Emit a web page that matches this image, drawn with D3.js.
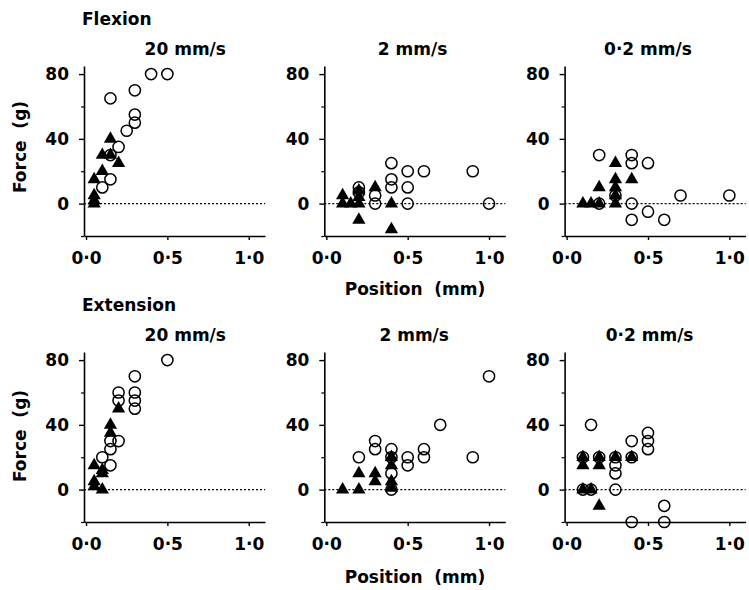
<!DOCTYPE html>
<html>
<head>
<meta charset="utf-8">
<script src="https://cdn.jsdelivr.net/npm/d3@7/dist/d3.min.js"></script>
<style>
  html, body { margin: 0; padding: 0; background: #fff; }
  svg { display: block; }
  text { font-family: "DejaVu Sans", sans-serif; font-weight: bold; fill: #000; }
</style>
</head>
<body>
<svg id="chart" width="749" height="590"></svg>
<script>
// ---------- data ----------
const rowNames = ["Flexion", "Extension"];
const speedTitles = ["20 mm/s", "2 mm/s", "0·2 mm/s"];
const xTicks = [0, 0.5, 1.0];
const yMajorTicks = [80, 40, 0];
const yMinorTicks = [60, 20, -20];

// Flexion, 20 mm/s
const flex20Open = [[0.4,80],[0.5,80],[0.3,70],[0.15,65],[0.3,55],[0.3,50],[0.25,45],[0.2,35],[0.15,30],[0.15,15],[0.1,10]];
const flex20Filled = [[0.15,40],[0.1,30],[0.15,30],[0.2,25],[0.1,20],[0.05,15],[0.05,5],[0.05,2],[0.05,0]];
// Flexion, 2 mm/s
const flex2Open = [[0.4,25],[0.5,20],[0.6,20],[0.9,20],[0.4,15],[0.4,10],[0.5,10],[0.2,10],[0.2,7],[0.3,5],[0.3,0],[0.5,0],[1.0,0]];
const flex2Filled = [[0.1,5],[0.1,0],[0.15,0],[0.2,8],[0.2,4],[0.2,0],[0.3,10],[0.4,0],[0.2,-10],[0.4,-16]];
// Flexion, 0.2 mm/s
const flex02Open = [[0.2,30],[0.4,30],[0.4,25],[0.5,25],[0.7,5],[1.0,5],[0.4,0],[0.2,0],[0.3,5],[0.5,-5],[0.4,-10],[0.6,-10]];
const flex02Filled = [[0.3,25],[0.3,15],[0.4,15],[0.2,10],[0.3,10],[0.3,5],[0.3,0],[0.1,0],[0.15,0],[0.2,0]];
// Extension, 20 mm/s
const ext20Open = [[0.5,80],[0.3,70],[0.2,60],[0.2,55],[0.3,60],[0.3,55],[0.3,50],[0.2,30],[0.15,30],[0.15,25],[0.15,15],[0.1,20]];
const ext20Filled = [[0.2,50],[0.15,40],[0.15,35],[0.05,15],[0.1,12],[0.1,10],[0.05,5],[0.05,2],[0.1,0]];
// Extension, 2 mm/s
const ext2Open = [[1.0,70],[0.7,40],[0.3,30],[0.3,25],[0.4,25],[0.6,25],[0.2,20],[0.5,20],[0.6,20],[0.9,20],[0.5,15],[0.4,10],[0.4,20],[0.4,0]];
const ext2Filled = [[0.1,0],[0.2,0],[0.2,10],[0.3,10],[0.3,5],[0.4,20],[0.4,15],[0.4,5],[0.4,1]];
// Extension, 0.2 mm/s
const ext02Open = [[0.15,40],[0.5,35],[0.5,30],[0.5,25],[0.4,30],[0.3,20],[0.3,15],[0.3,10],[0.3,0],[0.1,20],[0.2,20],[0.4,20],[0.1,0],[0.15,0],[0.6,-10],[0.4,-20],[0.6,-20]];
const ext02Filled = [[0.1,20],[0.1,15],[0.2,20],[0.2,15],[0.3,20],[0.4,20],[0.2,-10],[0.1,0],[0.15,0]];

const panels = [
  {row:0, col:0, open:flex20Open, filled:flex20Filled, titleAt:0.61},
  {row:0, col:1, open:flex2Open,  filled:flex2Filled,  titleAt:0.53},
  {row:0, col:2, open:flex02Open, filled:flex02Filled, titleAt:0.50},
  {row:1, col:0, open:ext20Open,  filled:ext20Filled,  titleAt:0.61},
  {row:1, col:1, open:ext2Open,   filled:ext2Filled,   titleAt:0.54},
  {row:1, col:2, open:ext02Open,  filled:ext02Filled,  titleAt:0.51}
];

// ---------- layout ----------
const svg = d3.select("#chart");
const FS = 17;
const xDomain = [-0.0125, 1.1];
const yDomain = [-20, 85];
const colLeft = c => 84 + c * 240.3;
const rowShift = r => r * 286;
const fmtX = d => d3.format(".1f")(d).replace(".", "·");

panels.forEach(p => {
  const x = d3.scaleLinear().domain(xDomain).range([colLeft(p.col), colLeft(p.col) + 181]);
  const y = d3.scaleLinear().domain(yDomain).range([236 + rowShift(p.row), 66 + rowShift(p.row)]);
  const g = svg.append("g");

  // zero reference line (dotted)
  g.append("line")
    .attr("x1", x(xDomain[0])).attr("x2", x(xDomain[1]))
    .attr("y1", y(0)).attr("y2", y(0))
    .attr("stroke", "#000").attr("stroke-width", 1.1)
    .attr("stroke-dasharray", "2,2");

  // y axis (major)
  const ya = g.append("g").attr("transform", `translate(${x(xDomain[0])},0)`)
    .call(d3.axisLeft(y).tickValues(yMajorTicks).tickSize(5).tickSizeOuter(0).tickPadding(10).tickFormat(d3.format("d")));
  ya.select(".domain").attr("stroke-width", 1.6);
  ya.selectAll(".tick line").attr("stroke-width", 1.4);
  ya.selectAll("text").style("font-size", FS + "px").style("font-family", "DejaVu Sans").style("font-weight", "bold");

  // y axis (minor)
  const ym = g.append("g").attr("transform", `translate(${x(xDomain[0])},0)`)
    .call(d3.axisLeft(y).tickValues(yMinorTicks).tickSize(3).tickSizeOuter(0).tickFormat(""));
  ym.select(".domain").remove();
  ym.selectAll(".tick line").attr("stroke-width", 1.2);

  // x axis
  const xa = g.append("g").attr("transform", `translate(0,${y(yDomain[0])})`)
    .call(d3.axisBottom(x).tickValues(xTicks).tickSize(4).tickSizeOuter(0).tickPadding(12).tickFormat(fmtX));
  xa.select(".domain").attr("stroke-width", 1.6);
  xa.selectAll(".tick line").attr("stroke-width", 1.4);
  xa.selectAll("text").style("font-size", FS + "px").style("font-family", "DejaVu Sans").style("font-weight", "bold");

  // open circles
  g.append("g").selectAll("circle").data(p.open).join("circle")
    .attr("cx", d => x(d[0])).attr("cy", d => y(d[1])).attr("r", 5.6)
    .attr("fill", "none").attr("stroke", "#000").attr("stroke-width", 1.5);

  // filled triangles
  const tri = d3.symbol(d3.symbolTriangle, 76);
  g.append("g").selectAll("path").data(p.filled).join("path")
    .attr("d", tri)
    .attr("transform", d => `translate(${x(d[0])},${y(d[1])})`)
    .attr("fill", "#000");

  // speed title
  g.append("text")
    .attr("x", x(p.titleAt)).attr("y", y(yDomain[1]) - 11)
    .attr("text-anchor", "middle")
    .style("font-size", FS + "px")
    .text(speedTitles[p.col]);
});

// row labels
rowNames.forEach((name, r) => {
  svg.append("text").attr("x", 82).attr("y", 25 + rowShift(r))
    .style("font-size", FS + "px").text(name);
  svg.append("text")
    .attr("transform", `translate(26,${147 + r * 289}) rotate(-90)`)
    .attr("text-anchor", "middle")
    .style("font-size", FS + "px")
    .text("Force\u00A0 (g)");
  svg.append("text")
    .attr("x", 415).attr("y", 295 + r * 288)
    .attr("text-anchor", "middle")
    .style("font-size", FS + "px")
    .text("Position\u00A0 (mm)");
});
</script>
</body>
</html>
